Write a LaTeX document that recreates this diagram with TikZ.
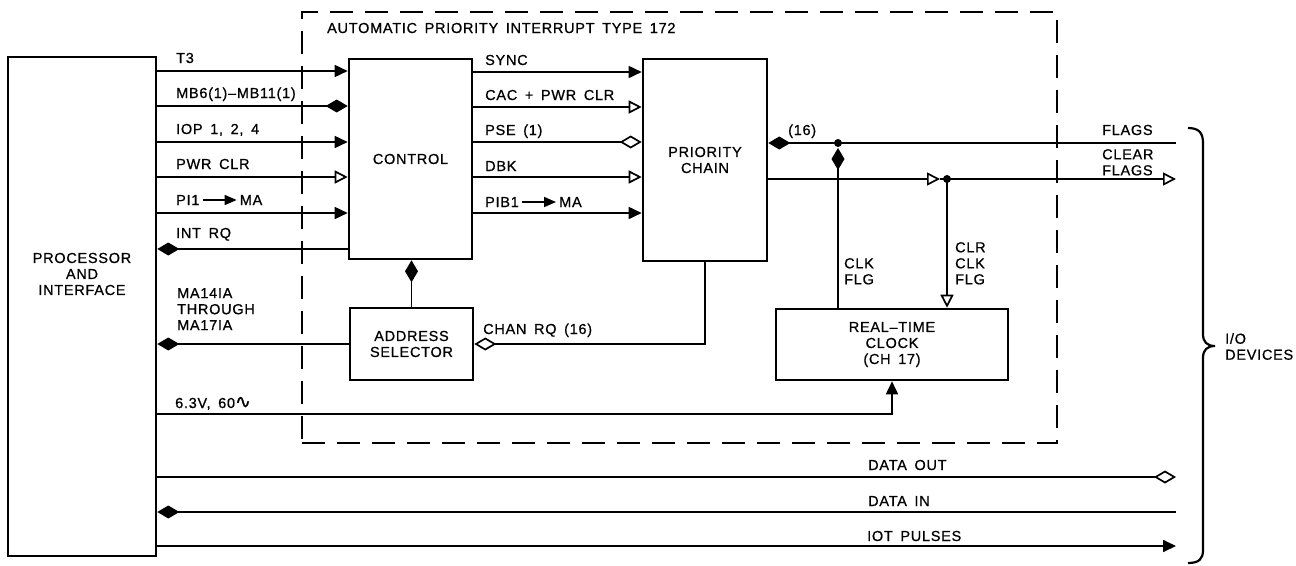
\documentclass[tikz,border=0pt]{standalone}
\usepackage{fontspec}
\setmainfont{Liberation Sans}[LetterSpace=5,WordSpace=1.6,FakeBold=0.7]
\newfontfamily\dvsym{DejaVu Sans}[FakeBold=0.7]
\usetikzlibrary{arrows.meta}
\newcommand{\lblsize}{\fontsize{14.5}{16}\selectfont}
\newcommand{\smallarrow}{\tikz[baseline=-5pt]\draw[line width=1.6pt,-{Triangle[length=12pt,width=10pt]}] (0pt,0pt)--(34pt,0pt);}
\begin{document}
\begin{tikzpicture}[x=1pt,y=-1pt,
  box/.style={draw,line width=2.6pt,inner sep=0pt,align=center,font=\lblsize},
  sig/.style={line width=1.7pt},
  lbl/.style={inner sep=0pt,font=\lblsize,align=left},
  tipfill/.style={-{Triangle[length=13pt,width=12pt]}},
  tipopen/.style={-{Triangle[open,length=13pt,width=13pt]}},
  dmdfill/.style={-{Diamond[length=22pt,width=13pt]}},
  dmdopen/.style={-{Diamond[open,length=22pt,width=13pt]}},
  dmdfillstart/.style={{Diamond[length=22pt,width=13pt]}-},
  frame/.style={draw,line width=2pt,dash pattern=on 23pt off 12pt,inner sep=0pt},
  dot/.style={circle,fill,inner sep=0pt,minimum size=8pt}
]
\useasboundingbox (0,0) rectangle (1296,565);
\fill[white] (0,0) rectangle (1296,565);

% boxes
\node[box,minimum width=148pt,minimum height=499pt] (proc) at (82,306.5) {};
\node[lbl,align=center] (proctxt) at (82,274) {PROCESSOR\\AND\\INTERFACE};
\node[frame,minimum width=755pt,minimum height=431pt] (api) at (679.5,227.5) {};
\node[lbl,anchor=base west] (title) at (327,33) {AUTOMATIC PRIORITY INTERRUPT TYPE 172};
\node[box,minimum width=123pt,minimum height=200pt] (ctrl) at (410.5,159) {CONTROL};
\node[box,minimum width=124pt,minimum height=202pt] (chain) at (705,160) {PRIORITY\\CHAIN};
\node[box,minimum width=123pt,minimum height=72pt] (addr) at (411.5,344) {ADDRESS\\SELECTOR};
\node[box,minimum width=232pt,minimum height=71pt] (rtc) at (892,344.5) {REAL–TIME\\CLOCK\\(CH 17)};

% coordinates
\coordinate (j1) at (838,143);
\coordinate (j1d) at (838,148);
\coordinate (flagsend) at (1176,143);
\coordinate (j2) at (947,179);
\coordinate (j2l) at (940,179);
\coordinate (clrend) at (1176,179);
\coordinate (pwr) at (0,414);
\coordinate (dout) at (1176,477);
\coordinate (din) at (1176,512);
\coordinate (iot) at (1176,546);

% processor -> control
\foreach \yy/\tp in {71/tipfill,106/dmdfill,142/tipfill,177/tipopen,213/tipfill}
  \draw[sig,\tp] (proc.east |- 0,\yy) -- (ctrl.west |- 0,\yy);
\draw[sig,dmdfill] (ctrl.west |- 0,249) -- (proc.east |- 0,249);

% control -> chain
\foreach \yy/\tp in {72/tipfill,107/tipopen,142/dmdopen,177/tipopen,213/tipfill}
  \draw[sig,\tp] (ctrl.east |- 0,\yy) -- (chain.west |- 0,\yy);

% address selector
\draw[sig,dmdfill] (addr.north) -- (addr.north |- ctrl.south);
\draw[sig,dmdfill] (addr.west) -- (proc.east |- addr.west);
\draw[sig,dmdopen] (chain.south) -- (chain.south |- addr.east) -- (addr.east);

% power to clock
\draw[sig,tipfill] (proc.east |- pwr) -| (rtc.south);

% flags
\draw[sig,dmdfillstart] (chain.east |- j1) -- (flagsend);
\draw[sig,dmdfill] (rtc.north -| j1) -- (j1d);
\node[dot] (d1) at (j1) {};
\draw[sig,tipopen] (chain.east |- j2) -- (j2l);
\draw[sig,tipopen] (j2l) -- (clrend);
\node[dot] (d2) at (j2) {};
\draw[sig,tipopen] (j2) -- (j2 |- rtc.north);

% I/O lines
\draw[sig,dmdopen] (proc.east |- dout) -- (dout);
\draw[sig,dmdfill] (din) -- (proc.east |- din);
\draw[sig,tipfill] (proc.east |- iot) -- (iot);

% brace
\draw[line width=2.2pt] (1188,128) .. controls (1199,128) and (1203,133) .. (1203,143) -- (1203,334) .. controls (1203,342) and (1207,346) .. (1215,346) .. controls (1207,346) and (1203,350) .. (1203,358) -- (1203,550) .. controls (1203,559) and (1199,563) .. (1188,563);

% labels
\node[lbl,anchor=base west] (lt3) at (176,63) {T3};
\node[lbl,anchor=base west] (lmb) at (176,98) {MB6(1)–MB11(1)};
\node[lbl,anchor=base west] (liop) at (176,134) {IOP 1, 2, 4};
\node[lbl,anchor=base west] (lpwr) at (176,169) {PWR CLR};
\node[lbl,anchor=base west] (lpi) at (176,205) {PI1\,\smallarrow\,MA};
\node[lbl,anchor=base west] (lint) at (176,238) {INT RQ};
\node[lbl,anchor=base west] (lsync) at (485,65) {SYNC};
\node[lbl,anchor=base west] (lcac) at (485,100) {CAC + PWR CLR};
\node[lbl,anchor=base west] (lpse) at (485,135) {PSE (1)};
\node[lbl,anchor=base west] (ldbk) at (485,171) {DBK};
\node[lbl,anchor=base west] (lpib) at (485,207) {PIB1\,\smallarrow\,MA};
\node[lbl,anchor=north west] (lma) at (177,288) {MA14IA\\THROUGH\\MA17IA};
\node[lbl,anchor=base west] (lchan) at (483,334) {CHAN RQ (16)};
\node[lbl,anchor=base west] (l63) at (175,408) {6.3V, 60{\dvsym\fontsize{19}{19}\selectfont ∿}};
\node[lbl,anchor=base west] (l16) at (788,135) {(16)};
\node[lbl,anchor=north west] (lclk) at (844,258) {CLK\\FLG};
\node[lbl,anchor=north west] (lclr) at (955,242) {CLR\\CLK\\FLG};
\node[lbl,anchor=base west] (lflags) at (1102,135) {FLAGS};
\node[lbl,anchor=north west] (lclear) at (1102,149) {CLEAR\\FLAGS};
\node[lbl,anchor=base west] (ldout) at (868,470) {DATA OUT};
\node[lbl,anchor=base west] (ldin) at (868,506) {DATA IN};
\node[lbl,anchor=base west] (liot) at (867,541) {IOT PULSES};
\node[lbl,anchor=north west] (lio) at (1225,333) {I/O\\DEVICES};
\end{tikzpicture}
\end{document}
